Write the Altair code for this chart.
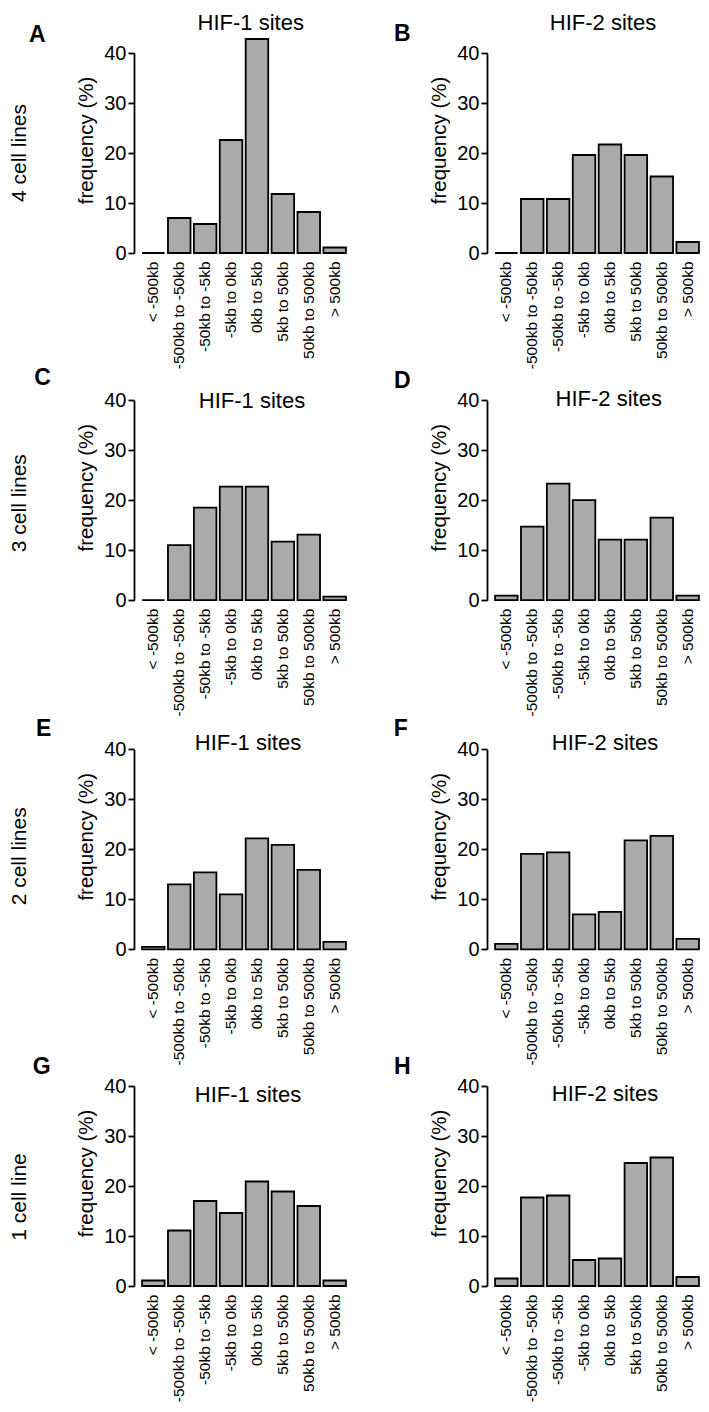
import altair as alt
import pandas as pd

categories = ["< -500kb", "-500kb to -50kb", "-50kb to -5kb", "-5kb to 0kb",
              "0kb to 5kb", "5kb to 50kb", "50kb to 500kb", "> 500kb"]
panel_letters = ["A", "B", "C", "D", "E", "F", "G", "H"]
site_titles = ["HIF-1 sites", "HIF-2 sites"]
row_labels = ["4 cell lines", "3 cell lines", "2 cell lines", "1 cell line"]

values_A = [0.0, 7.0, 5.8, 22.6, 42.8, 11.8, 8.2, 1.1]
values_B = [0.0, 10.8, 10.8, 19.6, 21.7, 19.6, 15.3, 2.2]
values_C = [0.0, 11.0, 18.5, 22.7, 22.7, 11.7, 13.1, 0.7]
values_D = [0.9, 14.7, 23.3, 20.0, 12.1, 12.1, 16.5, 0.9]
values_E = [0.5, 13.0, 15.4, 11.0, 22.2, 20.9, 15.9, 1.5]
values_F = [1.1, 19.1, 19.4, 7.0, 7.5, 21.8, 22.7, 2.1]
values_G = [1.1, 11.1, 17.0, 14.6, 20.9, 18.9, 16.0, 1.1]
values_H = [1.5, 17.7, 18.1, 5.2, 5.5, 24.6, 25.7, 1.8]
all_values = [values_A, values_B, values_C, values_D,
              values_E, values_F, values_G, values_H]

FONT = "Liberation Sans, Arial, Helvetica, sans-serif"
W, PH = 208, 200             # panel width, axis (0..40) height
row_extra = [0, 11.2, 12.3, 0]  # extra space above the 40 level per row

# layout (pixel offsets relative to the 40-level / left edge of each plot)
title_pos = {"A": (110.7, -23.3), "B": (110, -23.3), "C": (112, 7.3), "D": (115.7, 5.6),
             "E": (108, 0.7), "F": (112, 0.7), "G": (108, 16.3), "H": (112, 15.3)}
letter_pos = {"A": (-111, -11), "B": (-99, -12), "C": (-105.7, -15.7), "D": (-99, -12.7),
              "E": (-104, -13), "F": (-99.3, -13), "G": (-107.3, -12), "H": (-99, -12)}
rowlabel_y = [100, 103, 107, 111]


def panel(idx):
    letter = panel_letters[idx]
    row, col = divmod(idx, 2)
    e = row_extra[row]
    Hv = PH + e
    df = pd.DataFrame({"category": categories, "frequency": all_values[idx]})
    bars = alt.Chart(df).mark_bar(fill="#aaaaaa", stroke="black", strokeWidth=1.8).encode(
        x=alt.X("category:N", sort=categories,
                scale=alt.Scale(paddingInner=0.13, paddingOuter=0.08),
                axis=alt.Axis(title=None, labelAngle=270, labelFontSize=15.5, labelPadding=8,
                              ticks=False, tickSize=0, domain=False, labelColor="black",
                              labelOverlap=False, labelLimit=300, labelFont=FONT,
                              labelBound=False)),
        y=alt.Y("frequency:Q",
                scale=alt.Scale(domain=[0, 40], nice=False, range=[Hv, e]),
                axis=alt.Axis(values=[0, 10, 20, 30, 40], title="frequency (%)", grid=False,
                              offset=6, tickSize=6, tickWidth=1.8, tickColor="black",
                              domainColor="black", domainWidth=1.8, labelColor="black",
                              labelFontSize=20, labelPadding=2, labelFont=FONT,
                              titleFont=FONT, titleFontSize=20.5, titleFontWeight="normal",
                              titleColor="black", titlePadding=7, titleY=e + 87)),
    )
    tdx, tdy = title_pos[letter]
    title = alt.Chart(pd.DataFrame({"t": [site_titles[col]]})).mark_text(
        fontSize=22, align="center", baseline="alphabetic", font=FONT, color="black"
    ).encode(text="t:N", x=alt.value(tdx), y=alt.value(e + tdy))
    ldx, ldy = letter_pos[letter]
    let = alt.Chart(pd.DataFrame({"t": [letter]})).mark_text(
        fontSize=23, fontWeight="bold", align="left", baseline="alphabetic", font=FONT,
        color="black"
    ).encode(text="t:N", x=alt.value(ldx), y=alt.value(e + ldy))
    layers = [bars, title, let]
    if col == 0:
        rl = alt.Chart(pd.DataFrame({"t": [row_labels[row]]})).mark_text(
            fontSize=21, align="center", baseline="middle", angle=270, font=FONT,
            color="black"
        ).encode(text="t:N", x=alt.value(-120), y=alt.value(e + rowlabel_y[row]))
        layers.append(rl)
    return alt.layer(*layers).properties(width=W, height=Hv)


panels = [panel(i) for i in range(8)]
chart = alt.concat(
    *panels, columns=2, bounds="flush",
    spacing=alt.RowColnumber(row=136, column=145)
).properties(
    padding={"left": 0, "top": 3, "right": 0, "bottom": 0}
).configure(font=FONT, view=alt.ViewConfig(strokeWidth=0))

chart.save("out.html", embed_options={"renderer": "svg", "actions": False})
